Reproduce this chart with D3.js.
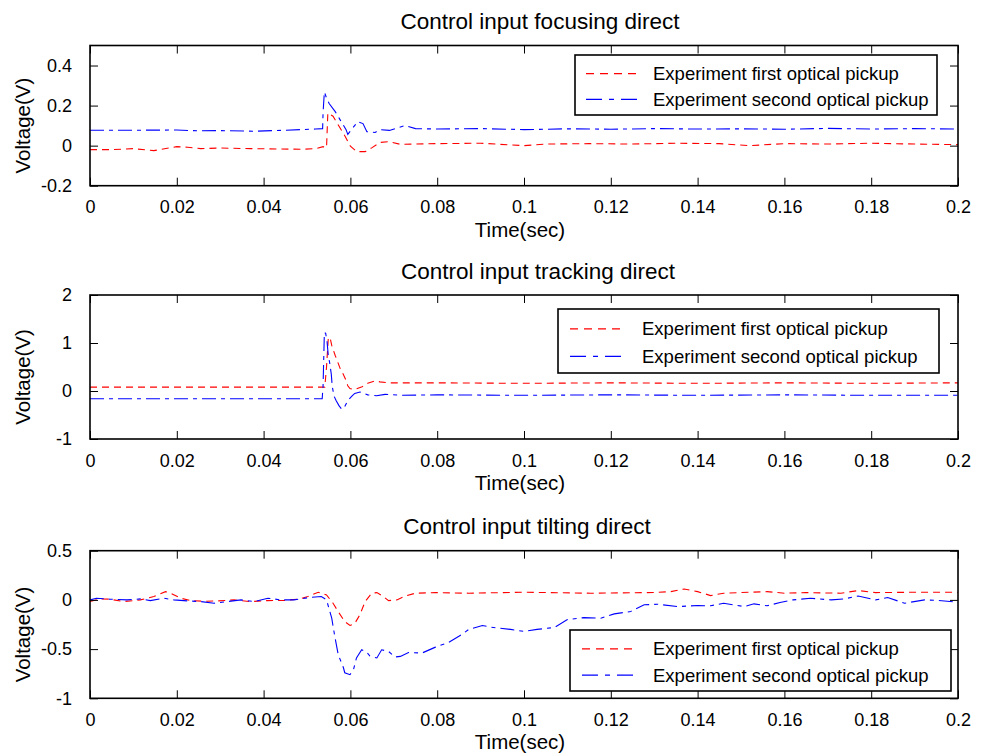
<!DOCTYPE html>
<html>
<head>
<meta charset="utf-8">
<script src="https://cdn.jsdelivr.net/npm/d3@7"></script>
<style>
  body { margin: 0; background: #fff; }
  svg { font-family: "Liberation Sans", Arial, Helvetica, sans-serif; }
  .domain-box { fill: none; stroke: #000; stroke-width: 1.6; }
  .tick-label { font-size: 18px; fill: #000; }
  .axis-label { font-size: 20.5px; fill: #000; }
  .title { font-size: 22.5px; fill: #000; }
  .legend-text { font-size: 18.5px; fill: #000; }
</style>
</head>
<body>
<svg id="chart" width="983" height="756"></svg>
<script>
// x ticks shared by all three panels
const timeTicks = [0, 0.02, 0.04, 0.06, 0.08, 0.1, 0.12, 0.14, 0.16, 0.18, 0.2];
const seriesNames = ['Experiment first optical pickup', 'Experiment second optical pickup'];
const panelTitles = ['Control input focusing direct', 'Control input tracking direct', 'Control input tilting direct'];

// focusing direct: [time, voltage]
const focusFirst = [
  [0, -0.02], [0.005, -0.02], [0.01, -0.015], [0.0147, -0.025], [0.02, -0.005], [0.0225, -0.008],
  [0.0255, -0.015], [0.03, -0.012], [0.037, -0.015], [0.0487, -0.018], [0.052, -0.015],
  [0.0537, -0.005], [0.0545, -0.01], [0.0548, 0.163], [0.056, 0.147], [0.057, 0.11],
  [0.0588, 0.046], [0.060, -0.003], [0.0615, -0.03], [0.0634, -0.03], [0.065, -0.01],
  [0.0668, 0.016], [0.069, 0.02], [0.0714, 0.007], [0.075, 0.008], [0.08, 0.01], [0.09, 0.012],
  [0.1, 0.0], [0.105, 0.008], [0.115, 0.01], [0.125, 0.008], [0.135, 0.012], [0.145, 0.01],
  [0.152, 0.0], [0.16, 0.01], [0.17, 0.008], [0.18, 0.012], [0.19, 0.008], [0.2, 0.005]
];
const focusSecond = [
  [0, 0.077], [0.01, 0.077], [0.02, 0.078], [0.025, 0.074], [0.03, 0.075], [0.038, 0.072],
  [0.045, 0.077], [0.052, 0.083], [0.0536, 0.085], [0.0537, 0.163], [0.054, 0.268],
  [0.0545, 0.238], [0.0551, 0.21], [0.0565, 0.17], [0.0576, 0.13], [0.059, 0.08],
  [0.0594, 0.056], [0.0606, 0.09], [0.0617, 0.12], [0.0629, 0.11], [0.0638, 0.07],
  [0.0657, 0.066], [0.0668, 0.08], [0.069, 0.076], [0.071, 0.09], [0.0726, 0.1], [0.075, 0.085],
  [0.08, 0.083], [0.09, 0.085], [0.1, 0.08], [0.11, 0.084], [0.12, 0.082], [0.13, 0.085],
  [0.14, 0.083], [0.15, 0.084], [0.16, 0.082], [0.17, 0.086], [0.18, 0.083], [0.19, 0.085], [0.2, 0.083]
];

// tracking direct
const trackFirst = [
  [0, 0.08], [0.02, 0.08], [0.04, 0.08], [0.0541, 0.08], [0.0545, 0.5], [0.0549, 1.09],
  [0.0553, 1.12], [0.0557, 0.95], [0.0565, 0.74], [0.0571, 0.6], [0.0578, 0.43],
  [0.0583, 0.36], [0.059, 0.22], [0.0594, 0.11], [0.0599, 0.05], [0.061, 0.03],
  [0.0627, 0.09], [0.064, 0.16], [0.0657, 0.21], [0.0668, 0.19], [0.069, 0.17],
  [0.08, 0.17], [0.1, 0.16], [0.12, 0.17], [0.14, 0.16], [0.16, 0.17], [0.18, 0.16], [0.2, 0.17]
];
const trackSecond = [
  [0, -0.16], [0.02, -0.16], [0.04, -0.16], [0.0535, -0.16], [0.0537, 0.1], [0.054, 1.22],
  [0.0543, 1.2], [0.0546, 1.05], [0.0549, 0.74], [0.0552, 0.6], [0.0556, 0.35],
  [0.0558, 0.11], [0.0562, -0.1], [0.0567, -0.2], [0.0574, -0.31], [0.058, -0.38],
  [0.0585, -0.36], [0.0594, -0.2], [0.0604, -0.1], [0.061, -0.05], [0.0622, -0.02],
  [0.064, -0.08], [0.066, -0.1], [0.068, -0.07], [0.072, -0.09], [0.08, -0.08],
  [0.1, -0.09], [0.12, -0.08], [0.14, -0.09], [0.16, -0.08], [0.18, -0.09], [0.2, -0.09]
];

// tilting direct
const tiltFirst = [
  [0, -0.017], [0.0023, 0.01], [0.0046, 0.007], [0.0077, -0.017], [0.0116, 0], [0.0147, 0.034],
  [0.0174, 0.084], [0.0186, 0.068], [0.0209, 0.017], [0.0232, -0.007], [0.0263, -0.014],
  [0.0294, -0.01], [0.0332, 0], [0.037, -0.017], [0.0409, -0.007], [0.0448, -0.005],
  [0.048, 0.007], [0.0502, 0.034], [0.0526, 0.078], [0.0545, 0.05], [0.056, -0.034],
  [0.0572, -0.12], [0.0587, -0.22], [0.0599, -0.26], [0.061, -0.24], [0.0622, -0.15],
  [0.0634, -0.017], [0.0649, 0.068], [0.0661, 0.074], [0.0676, 0.034], [0.0688, -0.007],
  [0.0707, 0], [0.0727, 0.04], [0.075, 0.068], [0.0796, 0.074], [0.0873, 0.068], [0.1, 0.078],
  [0.1154, 0.068], [0.13, 0.075], [0.1338, 0.084], [0.1369, 0.11], [0.14, 0.084],
  [0.143, 0.044], [0.146, 0.068], [0.152, 0.078], [0.156, 0.084], [0.16, 0.068],
  [0.165, 0.074], [0.173, 0.068], [0.177, 0.095], [0.181, 0.074], [0.19, 0.078], [0.2, 0.078]
];
const tiltSecond = [
  [0, 0], [0.0015, 0.017], [0.0046, 0.007], [0.0085, 0], [0.0116, 0.01], [0.0139, -0.007],
  [0.017, 0.017], [0.0193, 0], [0.0224, -0.01], [0.0255, -0.017], [0.0286, -0.034],
  [0.0317, -0.017], [0.0348, 0], [0.0379, -0.017], [0.041, 0.017], [0.044, 0],
  [0.047, 0], [0.051, 0.027], [0.0533, 0.034], [0.0545, 0], [0.0557, -0.186],
  [0.0564, -0.37], [0.0572, -0.557], [0.0584, -0.69], [0.0587, -0.74], [0.0599, -0.76],
  [0.0607, -0.71], [0.0614, -0.59], [0.0626, -0.507], [0.0638, -0.534], [0.0645, -0.57],
  [0.0661, -0.59], [0.0672, -0.507], [0.0688, -0.524], [0.0703, -0.58], [0.0715, -0.574],
  [0.0734, -0.534], [0.0765, -0.54], [0.0796, -0.48], [0.0827, -0.43], [0.085, -0.37],
  [0.0873, -0.3], [0.0904, -0.26], [0.0923, -0.277], [0.0969, -0.3], [0.1, -0.32],
  [0.103, -0.3], [0.107, -0.28], [0.11, -0.2], [0.1138, -0.18], [0.1177, -0.186],
  [0.1208, -0.142], [0.1246, -0.118], [0.1277, -0.05], [0.1308, -0.044], [0.1354, -0.068],
  [0.14, -0.057], [0.143, -0.06], [0.146, -0.034], [0.1508, -0.068], [0.153, -0.04],
  [0.156, -0.06], [0.159, -0.027], [0.162, 0], [0.166, 0.017], [0.1708, 0], [0.1738, 0.01],
  [0.177, 0.04], [0.181, 0], [0.1838, 0.024], [0.1877, -0.034], [0.1923, 0], [0.1954, -0.005], [0.2, -0.024]
];

const focusTicks = [-0.2, 0, 0.2, 0.4];
const trackTicks = [-1, 0, 1, 2];
const tiltTicks = [-1, -0.5, 0, 0.5];

const panels = [
  { title: panelTitles[0], series: [focusFirst, focusSecond], yDomain: [-0.2, 0.5], yTicks: focusTicks,
    top: 45.5, bottom: 185.7, titleX: 540, legend: { x: 575, y: 55, w: 362, h: 60, lineX: 586, textX: 653 } },
  { title: panelTitles[1], series: [trackFirst, trackSecond], yDomain: [-1, 2], yTicks: trackTicks,
    top: 295, bottom: 439, titleX: 538, legend: { x: 558, y: 309, w: 381, h: 64, lineX: 570, textX: 642 } },
  { title: panelTitles[2], series: [tiltFirst, tiltSecond], yDomain: [-1, 0.5], yTicks: tiltTicks,
    top: 550.7, bottom: 698.3, titleX: 527, legend: { x: 570, y: 630, w: 381, h: 61, lineX: 582, textX: 653 } }
];

const colors = ['#ff0000', '#0000ff'];
const dashes = ['7,5', '14,5,4,5'];
const legendDashes = ['8,6', '16,7,5,7'];

// plain ascii labels like the original (hyphen, no unicode minus)
const fmt = d => String(d);

const svg = d3.select('#chart');
const left = 90, right = 958;

const x = d3.scaleLinear().domain([0, 0.2]).range([left, right]);

panels.forEach(p => {
  const y = d3.scaleLinear().domain(p.yDomain).range([p.bottom, p.top]);
  const g = svg.append('g');

  // clip to axes box
  const clipId = 'clip' + p.top;
  g.append('clipPath').attr('id', clipId)
    .append('rect').attr('x', left).attr('y', p.top).attr('width', right - left).attr('height', p.bottom - p.top);

  const line = d3.line().x(d => x(d[0])).y(d => y(d[1]));

  p.series.forEach((s, i) => {
    g.append('path')
      .datum(s)
      .attr('clip-path', `url(#${clipId})`)
      .attr('fill', 'none')
      .attr('stroke', colors[i])
      .attr('stroke-width', 1.1)
      .attr('stroke-dasharray', dashes[i])
      .attr('d', line);
  });

  // axes with inward ticks on all four sides
  const tickLen = 8;
  g.append('g').attr('transform', `translate(0,${p.bottom})`)
    .call(d3.axisBottom(x).tickValues(timeTicks).tickSize(-tickLen).tickPadding(tickLen + 7).tickFormat(fmt))
    .call(a => a.select('.domain').remove());
  g.append('g').attr('transform', `translate(0,${p.top})`)
    .call(d3.axisTop(x).tickValues(timeTicks).tickSize(-tickLen).tickFormat(''))
    .call(a => a.select('.domain').remove());
  g.append('g').attr('transform', `translate(${left},0)`)
    .call(d3.axisLeft(y).tickValues(p.yTicks).tickSize(-tickLen).tickPadding(tickLen + 10).tickFormat(fmt))
    .call(a => a.select('.domain').remove());
  g.append('g').attr('transform', `translate(${right},0)`)
    .call(d3.axisRight(y).tickValues(p.yTicks).tickSize(-tickLen).tickFormat(''))
    .call(a => a.select('.domain').remove());

  g.selectAll('.tick line').attr('stroke', '#000').attr('stroke-width', 1);
  g.selectAll('.tick text').attr('class', 'tick-label').attr('font-family', null).attr('font-size', null);

  g.append('rect').attr('class', 'domain-box')
    .attr('x', left).attr('y', p.top).attr('width', right - left).attr('height', p.bottom - p.top);

  // labels
  g.append('text').attr('class', 'title')
    .attr('x', p.titleX).attr('y', p.top - 16.5).attr('text-anchor', 'middle').text(p.title);
  g.append('text').attr('class', 'axis-label')
    .attr('x', 520).attr('y', p.bottom + 51).attr('text-anchor', 'middle').text('Time(sec)');
  g.append('text').attr('class', 'axis-label')
    .attr('transform', `translate(30,${(p.top + p.bottom) / 2 + 10}) rotate(-90)`)
    .attr('text-anchor', 'middle').text('Voltage(V)');

  // legend
  const L = p.legend;
  const lg = g.append('g');
  lg.append('rect').attr('x', L.x).attr('y', L.y).attr('width', L.w).attr('height', L.h)
    .attr('fill', '#fff').attr('stroke', '#000').attr('stroke-width', 1.6);
  seriesNames.forEach((name, i) => {
    const ry = L.y + L.h * (i === 0 ? 0.31 : 0.74);
    lg.append('line').attr('x1', L.lineX).attr('x2', L.lineX + 56).attr('y1', ry).attr('y2', ry)
      .attr('stroke', colors[i]).attr('stroke-width', 1.1).attr('stroke-dasharray', legendDashes[i]);
    lg.append('text').attr('class', 'legend-text').attr('x', L.textX).attr('y', ry).attr('dy', '0.35em').text(name);
  });
});
</script>
</body>
</html>
